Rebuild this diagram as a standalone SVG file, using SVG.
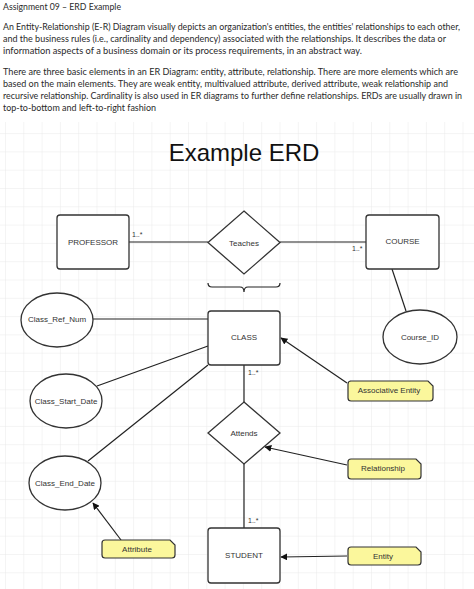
<svg xmlns="http://www.w3.org/2000/svg" width="474" height="589" viewBox="0 0 474 589">
<defs>
<pattern id="grid" x="5" y="5" width="18.3" height="18.3" patternUnits="userSpaceOnUse">
<path d="M0,0 L18.3,0 M0,0 L0,18.3" fill="none" stroke="#e4e4e4" stroke-width="0.8"/>
</pattern>
<marker id="arr" viewBox="0 0 10 10" refX="9" refY="5" markerWidth="7" markerHeight="7" orient="auto" markerUnits="userSpaceOnUse">
<path d="M0,0 L10,5 L0,10 Z" fill="#111"/>
</marker>
<style>
.doc{font-family:Lato,"Open Sans","Liberation Sans",sans-serif;font-size:9px;fill:#2a2a2a}
.box{fill:#fff;stroke:#333;stroke-width:1.3}
.lbl{font-family:"Liberation Sans",Arial,sans-serif;font-size:8px;fill:#333;text-anchor:middle;dominant-baseline:central}
.card{font-family:"Liberation Sans",Arial,sans-serif;font-size:7px;fill:#333}
.note{fill:#fbf79c;stroke:#333;stroke-width:1.2}
.ln{fill:none;stroke:#222;stroke-width:1.2}
.ar{fill:none;stroke:#222;stroke-width:1.2;marker-end:url(#arr)}
</style>
</defs>
<rect x="0" y="0" width="474" height="589" fill="#fff"/>
<rect x="0" y="122" width="474" height="467" fill="url(#grid)"/>

<g id="document-text">
<text class="doc" x="3" y="10" textLength="118" lengthAdjust="spacingAndGlyphs">Assignment 09 – ERD Example</text>
<text class="doc" x="3" y="30" textLength="457" lengthAdjust="spacingAndGlyphs">An Entity-Relationship (E-R) Diagram visually depicts an organization's entities, the entities' relationships to each other,</text>
<text class="doc" x="3" y="42" textLength="443" lengthAdjust="spacingAndGlyphs">and the business rules (i.e., cardinality and dependency) associated with the relationships. It describes the data or</text>
<text class="doc" x="3" y="54" textLength="359" lengthAdjust="spacingAndGlyphs">information aspects of a business domain or its process requirements, in an abstract way.</text>
<text class="doc" x="3" y="75" textLength="455" lengthAdjust="spacingAndGlyphs">There are three basic elements in an ER Diagram: entity, attribute, relationship. There are more elements which are</text>
<text class="doc" x="3" y="87" textLength="445" lengthAdjust="spacingAndGlyphs">based on the main elements. They are weak entity, multivalued attribute, derived attribute, weak relationship and</text>
<text class="doc" x="3" y="99" textLength="459" lengthAdjust="spacingAndGlyphs">recursive relationship. Cardinality is also used in ER diagrams to further define relationships. ERDs are usually drawn in</text>
<text class="doc" x="3" y="111" textLength="153" lengthAdjust="spacingAndGlyphs">top-to-bottom and left-to-right fashion</text>
</g>

<g id="title">
<text x="244" y="161" font-family="'Liberation Sans',Arial,sans-serif" font-size="24" fill="#111" text-anchor="middle">Example ERD</text>
</g>

<g id="connectors">
<line class="ln" x1="129" y1="242" x2="208" y2="242"/>
<line class="ln" x1="280" y1="242" x2="366" y2="242"/>
<line class="ln" x1="392" y1="269" x2="406" y2="311"/>
<line class="ln" x1="93" y1="319" x2="208" y2="319"/>
<line class="ln" x1="97" y1="386" x2="208" y2="346"/>
<line class="ln" x1="208" y1="365" x2="88" y2="461"/>
<line class="ln" x1="244" y1="365" x2="244" y2="402"/>
<line class="ln" x1="244" y1="464" x2="244" y2="528"/>
<line class="ar" x1="347" y1="383" x2="281" y2="338"/>
<line class="ar" x1="347" y1="465" x2="265" y2="447"/>
<line class="ar" x1="347" y1="556" x2="281" y2="557"/>
<line class="ar" x1="121" y1="540" x2="93" y2="503"/>
<path class="ln" d="M208,283 Q208,287 212,287 L240,287 Q244,287 244,292 Q244,287 248,287 L276,287 Q280,287 280,283"/>
<text class="card" x="132" y="237">1..*</text>
<text class="card" x="352" y="251">1..*</text>
<text class="card" x="248" y="375">1..*</text>
<text class="card" x="248" y="523">1..*</text>
</g>

<g id="professor">
<rect class="box" x="57" y="215" width="72" height="54" rx="3"/>
<text class="lbl" x="93" y="242">PROFESSOR</text>
</g>
<g id="teaches">
<path class="box" d="M244,211 L280,242.5 L244,274 L208,242.5 Z"/>
<text class="lbl" x="244" y="243">Teaches</text>
</g>
<g id="course">
<rect class="box" x="366" y="215" width="73" height="54" rx="3"/>
<text class="lbl" x="402.5" y="241">COURSE</text>
</g>
<g id="class">
<rect class="box" x="208" y="311" width="72" height="54" rx="3"/>
<text class="lbl" x="244" y="337">CLASS</text>
</g>
<g id="class-ref-num">
<ellipse class="box" cx="57" cy="320" rx="36" ry="27"/>
<text class="lbl" x="57" y="319">Class_Ref_Num</text>
</g>
<g id="course-id">
<ellipse class="box" cx="420" cy="337" rx="37" ry="27"/>
<text class="lbl" x="420" y="337">Course_ID</text>
</g>
<g id="class-start-date">
<ellipse class="box" cx="66" cy="401" rx="36" ry="27"/>
<text class="lbl" x="66" y="401">Class_Start_Date</text>
</g>
<g id="class-end-date">
<ellipse class="box" cx="65" cy="483" rx="36" ry="27"/>
<text class="lbl" x="65" y="483">Class_End_Date</text>
</g>
<g id="attends">
<path class="box" d="M244,402 L280,433 L244,464 L208,433 Z"/>
<text class="lbl" x="244" y="433">Attends</text>
</g>
<g id="student">
<rect class="box" x="208" y="528" width="72" height="55" rx="3"/>
<text class="lbl" x="244" y="555">STUDENT</text>
</g>

<g id="note-associative-entity">
<path class="note" d="M350,381 L428,381 L433,386 L433,398 Q433,401 430,401 L351,401 Q348,401 348,398 L348,384 Q348,381 351,381 Z"/>
<text class="lbl" x="389" y="390">Associative Entity</text>
</g>
<g id="note-relationship">
<path class="note" d="M351,459 L416,459 L421,464 L421,476 Q421,479 418,479 L351,479 Q348,479 348,476 L348,462 Q348,459 351,459 Z"/>
<text class="lbl" x="383" y="468">Relationship</text>
</g>
<g id="note-attribute">
<path class="note" d="M105,540 L170,540 L175,545 L175,555 Q175,558 172,558 L105,558 Q102,558 102,555 L102,543 Q102,540 105,540 Z"/>
<text class="lbl" x="137" y="549">Attribute</text>
</g>
<g id="note-entity">
<path class="note" d="M351,547 L416,547 L421,552 L421,562 Q421,565 418,565 L351,565 Q348,565 348,562 L348,550 Q348,547 351,547 Z"/>
<text class="lbl" x="383" y="556">Entity</text>
</g>
</svg>
